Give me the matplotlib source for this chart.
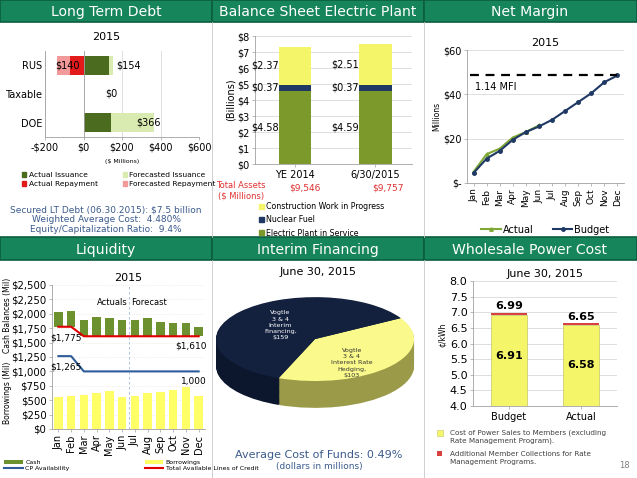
import numpy as np
import matplotlib
matplotlib.use("Agg")
import matplotlib.pyplot as plt
from matplotlib.patches import Rectangle
from matplotlib.lines import Line2D
from matplotlib.patches import Patch

W, H = 637, 478

# ---- data ----
debt_cats = ["RUS", "Taxable", "DOE"]
actual_issuance = [130, 0, 145]
forecast_issuance = [24, 0, 221]
actual_repay = [-70, 0, 0]
forecast_repay = [-70, 0, 0]
debt_labels = ["$140", "$0", "$366"]

plant_cats = ["YE 2014", "6/30/2015"]
plant_service = [4.58, 4.59]
nuclear_fuel = [0.37, 0.37]
cwip = [2.37, 2.51]
total_assets = ["$9,546", "$9,757"]

months = ["Jan", "Feb", "Mar", "Apr", "May", "Jun", "Jul", "Aug", "Sep", "Oct", "Nov", "Dec"]
nm_actual = [5, 13, 15.5, 20.5, 23, 26]
nm_budget = [4.5, 11, 14.5, 19.5, 23, 25.5, 28.5, 32.5, 36.5, 40.5, 45.5, 48.5]
mfi = 48.7

cash = [2030, 2040, 1885, 1945, 1920, 1895, 1900, 1925, 1865, 1845, 1835, 1770]
borrowings = [558, 570, 598, 628, 668, 558, 576, 620, 645, 680, 733, 576]
cp_avail = [1265, 1265, 1000, 1000, 1000, 1000, 1000, 1000, 1000, 1000, 1000, 1000]
credit_lines = [1775, 1775, 1610, 1610, 1610, 1610, 1610, 1610, 1610, 1610, 1610, 1610]

pie_vals = [103, 159]
pie_labels = ["Vogtle\n3 & 4\nInterest Rate\nHedging,\n$103", "Vogtle\n3 & 4\nInterim\nFinancing,\n$159"]

wpc_cats = ["Budget", "Actual"]
wpc_cost = [6.91, 6.58]
wpc_total = [6.99, 6.65]

HDR = "#16855c"
HDR_EDGE = "#0b5e40"
BLUE_TXT = "#3b5b8c"
GRID = "#d9d9d9"


def box(x0, y0, x1, y1):
    return [x0 / W, 1 - y1 / H, (x1 - x0) / W, (y1 - y0) / H]


def ftext(x, y, s, **kw):
    fig.text(x / W, 1 - y / H, s, **kw)


def style(ax, fs=7):
    for s in ["top", "right"]:
        ax.spines[s].set_visible(False)
    for s in ["left", "bottom"]:
        ax.spines[s].set_color("#a0a0a0")
        ax.spines[s].set_linewidth(0.6)
    ax.tick_params(labelsize=fs, length=2, width=0.5, color="#a0a0a0", pad=2)
    ax.set_axisbelow(True)


fig = plt.figure(figsize=(W / 100, H / 100), dpi=100)

# ---- headers / frame ----
bg = fig.add_axes([0, 0, 1, 1])
bg.set_xlim(0, W)
bg.set_ylim(H, 0)
bg.axis("off")
for (x0, x1) in [(0, 212), (212, 424), (424, 637)]:
    for (y0, y1) in [(0, 22), (237, 260)]:
        bg.add_patch(Rectangle((x0, y0), x1 - x0, y1 - y0, facecolor=HDR, edgecolor=HDR_EDGE, lw=1.2))
for xs in [212, 424]:
    bg.plot([xs, xs], [22, 237], color="#c8c8c8", lw=0.6)
    bg.plot([xs, xs], [260, 478], color="#c8c8c8", lw=0.6)
titles = [("Long Term Debt", 106, 11), ("Balance Sheet Electric Plant", 318, 11), ("Net Margin", 530, 11),
          ("Liquidity", 106, 249), ("Interim Financing", 318, 249), ("Wholesale Power Cost", 530, 249)]
for t, x, y in titles:
    bg.text(x, y + 1, t, color="white", fontsize=10.1, ha="center", va="center")

# ---- Long Term Debt ----
ax1 = fig.add_axes(box(45, 51, 199, 137))
style(ax1, 7)
y = np.arange(3)
ax1.barh(y, actual_issuance, height=0.66, color="#4b6b1e")
ax1.barh(y, forecast_issuance, left=actual_issuance, height=0.66, color="#d9ebb0")
ax1.barh(y, actual_repay, height=0.66, color="#e31a1a")
ax1.barh(y, forecast_repay, left=actual_repay, height=0.66, color="#f29a9a")
ax1.set_xlim(-200, 600)
ax1.set_ylim(2.5, -0.5)
ax1.set_yticks(y)
ax1.set_yticklabels(debt_cats)
ax1.set_xticks([-200, 0, 200, 400, 600])
ax1.set_xticklabels(["-$200", "$0", "$200", "$400", "$600"])
ax1.xaxis.grid(True, color=GRID, lw=0.6)
ax1.axvline(0, color="#a0a0a0", lw=0.6)
ax1.tick_params(axis="y", length=0)
ax1.text(-145, 0, debt_labels[0], fontsize=7, va="center", ha="left")
ax1.text(170, 0, "$154", fontsize=7, va="center", ha="left")
ax1.text(145, 1, debt_labels[1], fontsize=7, va="center", ha="center")
ax1.text(340, 2, debt_labels[2], fontsize=7, va="center", ha="center")
ftext(106, 37, "2015", fontsize=8, ha="center", va="center")
ftext(122, 161, "($ Millions)", fontsize=4.5, ha="center", va="center")
h1 = [Patch(color="#4b6b1e"), Patch(color="#e31a1a"), Patch(color="#d9ebb0"), Patch(color="#f29a9a")]
fig.legend(h1, ["Actual Issuance", "Actual Repayment", "Forecasted Issuance", "Forecasted Repayment"],
           ncol=2, loc="upper left", bbox_to_anchor=(22 / W, 1 - 172 / H), fontsize=5.4, frameon=False,
           handlelength=0.55, handleheight=0.55, handletextpad=0.35, columnspacing=3.3, labelspacing=0.45,
           borderaxespad=0, borderpad=0)
ftext(106, 210, "Secured LT Debt (06.30.2015): $7.5 billion", fontsize=6.5, color=BLUE_TXT, ha="center", va="center")
ftext(106, 220, "Weighted Average Cost:  4.480%", fontsize=6.5, color=BLUE_TXT, ha="center", va="center")
ftext(106, 230, "Equity/Capitalization Ratio:  9.4%", fontsize=6.5, color=BLUE_TXT, ha="center", va="center")

# ---- Balance Sheet Electric Plant ----
ax2 = fig.add_axes(box(255, 36, 412, 164))
style(ax2, 7)
x2 = np.arange(2)
bw = 0.41
ax2.bar(x2, plant_service, width=bw, color="#7c9a2c")
ax2.bar(x2, nuclear_fuel, bottom=plant_service, width=bw, color="#1f3864")
b2 = [a + b for a, b in zip(plant_service, nuclear_fuel)]
ax2.bar(x2, cwip, bottom=b2, width=bw, color="#f5f56a")
ax2.set_xlim(-0.5, 1.46)
ax2.set_ylim(0, 8)
ax2.set_yticks(range(9))
ax2.set_yticklabels(["$%d" % v for v in range(9)])
ax2.set_xticks(x2)
ax2.set_xticklabels(plant_cats)
ax2.yaxis.grid(True, color=GRID, lw=0.6)
ax2.set_ylabel("(Billions)", fontsize=7, labelpad=1)
for i in range(2):
    xl = x2[i] - bw / 2
    ax2.text(xl, plant_service[i] / 2, "$%.2f" % plant_service[i], fontsize=7, ha="right", va="center")
    ax2.text(xl, plant_service[i] + nuclear_fuel[i] / 2, "$%.2f" % nuclear_fuel[i], fontsize=7, ha="right", va="center")
    ax2.text(xl, b2[i] + cwip[i] / 2, "$%.2f" % cwip[i], fontsize=7, ha="right", va="center")
ftext(241, 191, "Total Assets\n($ Millions)", fontsize=6, color="#e03030", ha="center", va="center")
ftext(305, 188, total_assets[0], fontsize=6.5, color="#e03030", ha="center", va="center")
ftext(388, 188, total_assets[1], fontsize=6.5, color="#e03030", ha="center", va="center")
h2 = [Patch(color="#f5f56a"), Patch(color="#1f3864"), Patch(color="#7c9a2c")]
fig.legend(h2, ["Construction Work in Progress", "Nuclear Fuel", "Electric Plant in Service"],
           loc="upper left", bbox_to_anchor=(259 / W, 1 - 202 / H), fontsize=5.7, frameon=False,
           handlelength=0.6, handleheight=0.6, handletextpad=0.3, labelspacing=0.55, borderaxespad=0, borderpad=0)

# ---- Net Margin ----
ax3 = fig.add_axes(box(467, 50, 624, 183))
style(ax3, 7)
xm = np.arange(12)
ax3.plot(xm[:len(nm_actual)], nm_actual, color="#7fa836", marker="^", ms=2.5, lw=1.5, label="Actual")
ax3.plot(xm, nm_budget, color="#1f3864", marker="o", ms=2.5, lw=1.5, label="Budget")
ax3.plot([-0.3, 11], [mfi, mfi], color="black", lw=1.6, ls=(0, (4, 3)))
ax3.text(0.1, mfi - 3, "1.14 MFI", fontsize=7, va="top")
ax3.set_xlim(-0.5, 11.5)
ax3.set_ylim(0, 60)
ax3.set_yticks([0, 20, 40, 60])
ax3.set_yticklabels(["$-", "$20", "$40", "$60"])
ax3.set_xticks(xm)
ax3.set_xticklabels(months, rotation=90, fontsize=6.5)
ax3.yaxis.grid(True, color=GRID, lw=0.6)
ax3.set_ylabel("Millions", fontsize=5.5, labelpad=1)
ax3.set_title("2015", fontsize=8, pad=3)
ax3.legend(loc="center", bbox_to_anchor=(0.5, -0.35), ncol=2, fontsize=7, frameon=False,
           handlelength=2, handletextpad=0.2, columnspacing=2)

# ---- Liquidity ----
ax4 = fig.add_axes(box(52, 285, 205, 429))
style(ax4, 7.3)
h_cash = ax4.bar(xm, [c - l for c, l in zip(cash, credit_lines)], bottom=credit_lines, width=0.65, color="#6e9130")
h_borr = ax4.bar(xm, borrowings, width=0.65, color="#ffff66")
h_cp, = ax4.plot(xm, cp_avail, color="#2e5c9a", lw=1.5)
h_cl, = ax4.plot(xm, credit_lines, color="#e00000", lw=1.5)
ax4.axvline(5.5, color="#9ab8dc", lw=0.6, ls=(0, (3, 3)))
ax4.set_xlim(-0.5, 11.5)
ax4.set_ylim(0, 2500)
ax4.set_yticks(range(0, 2501, 250))
ax4.set_yticklabels(["$%s" % format(v, ",") for v in range(0, 2501, 250)])
ax4.set_xticks(xm)
ax4.set_xticklabels(months, rotation=90, fontsize=7)
ax4.yaxis.grid(True, color="#e6e6e6", lw=0.6, ls=":")
ax4.set_title("2015", fontsize=8, pad=3)
ax4.text(5.4, 2190, "Actuals", fontsize=6, ha="right", va="center")
ax4.text(5.7, 2190, "Forecast", fontsize=6, ha="left", va="center")
ax4.text(-0.6, 1580, "$1,775", fontsize=6.5, ha="left", va="center")
ax4.text(11.6, 1446, "$1,610", fontsize=6.5, ha="right", va="center")
ax4.text(-0.6, 1080, "$1,265", fontsize=6.5, ha="left", va="center")
ax4.text(11.6, 821, "1,000", fontsize=6.5, ha="right", va="center")
ftext(8, 315, "Cash Balances (Mil)", fontsize=5.5, rotation=90, ha="center", va="center")
ftext(8, 393, "Borrowings (Mil)", fontsize=5.5, rotation=90, ha="center", va="center")
fig.legend([h_cash, h_cp, h_borr, h_cl], ["Cash", "CP Availability", "Borrowings", "Total Available Lines of Credit"],
           ncol=2, loc="upper left", bbox_to_anchor=(4 / W, 1 - 460 / H),
           fontsize=4.5, frameon=False, handlelength=3, handleheight=0.7, handletextpad=0.4,
           columnspacing=12, labelspacing=0.1, borderaxespad=0, borderpad=0)

# ---- Interim Financing (3D-ish pie) ----
ax5 = fig.add_axes(box(212, 290, 420, 415))
ax5.axis("off")
depth = 0.64
for d in np.linspace(depth, 0.02, 30):
    ax5.pie(pie_vals, colors=["#9a9a48", "#0c172e"], startangle=30, counterclock=False,
            center=(0, -d), radius=1, wedgeprops=dict(linewidth=0))
ax5.pie(pie_vals, colors=["#fafa8c", "#13213f"], startangle=30, counterclock=False,
        center=(0, 0), radius=1, wedgeprops=dict(linewidth=0))
ax5.set_aspect("auto")
ax5.set_xlim(-1.04, 1.06)
ax5.set_ylim(-1.81, 1.17)
ax5.text(0.37, -0.57, pie_labels[0], fontsize=4.6, ha="center", va="center", color="#333333", linespacing=1.3)
ax5.text(-0.35, 0.33, pie_labels[1], fontsize=4.6, ha="center", va="center", color="white", linespacing=1.3)
ftext(318, 272, "June 30, 2015", fontsize=8, ha="center", va="center")
ftext(319, 455, "Average Cost of Funds: 0.49%", fontsize=8, color=BLUE_TXT, ha="center", va="center")
ftext(319, 466, "(dollars in millions)", fontsize=6.5, color=BLUE_TXT, ha="center", va="center")

# ---- Wholesale Power Cost ----
ax6 = fig.add_axes(box(473, 281, 617, 406))
style(ax6, 8)
x6 = np.arange(2)
ax6.bar(x6, wpc_cost, width=0.49, color="#f5f56a", edgecolor="#b8b850", lw=0.4)
ax6.bar(x6, [t - c for t, c in zip(wpc_total, wpc_cost)], bottom=wpc_cost, width=0.49, color="#d94040")
ax6.set_xlim(-0.5, 1.5)
ax6.set_ylim(4, 8)
ax6.set_yticks(np.arange(4, 8.01, 0.5))
ax6.set_yticklabels(["%.1f" % v for v in np.arange(4, 8.01, 0.5)])
ax6.set_xticks(x6)
ax6.set_xticklabels(wpc_cats, fontsize=7)
ax6.yaxis.grid(True, color=GRID, lw=0.6)
ax6.set_title("June 30, 2015", fontsize=8, pad=3)
ftext(443, 335, "\u00a2/kWh", fontsize=5.5, rotation=90, ha="center", va="center")
for i in range(2):
    ax6.text(x6[i], wpc_total[i] + 0.04, "%.2f" % wpc_total[i], fontsize=8, fontweight="bold", ha="center", va="bottom")
ax6.text(0, 5.6, "%.2f" % wpc_cost[0], fontsize=8, fontweight="bold", ha="center", va="center")
ax6.text(1, 5.3, "%.2f" % wpc_cost[1], fontsize=8, fontweight="bold", ha="center", va="center")
bg.add_patch(Rectangle((437, 430), 6, 6, facecolor="#f5f56a", edgecolor="#c8c860", lw=0.4))
bg.add_patch(Rectangle((437, 451), 5, 5, facecolor="#d94040", lw=0))
ftext(450, 437, "Cost of Power Sales to Members (excluding\nRate Management Program).", fontsize=5.2,
      color="#404040", ha="left", va="center", linespacing=1.4)
ftext(450, 458, "Additional Member Collections for Rate\nManagement Programs.", fontsize=5.2,
      color="#404040", ha="left", va="center", linespacing=1.4)
ftext(624, 466, "18", fontsize=6, color="#808080", ha="center", va="center")

fig.savefig("out.png", dpi=100)
